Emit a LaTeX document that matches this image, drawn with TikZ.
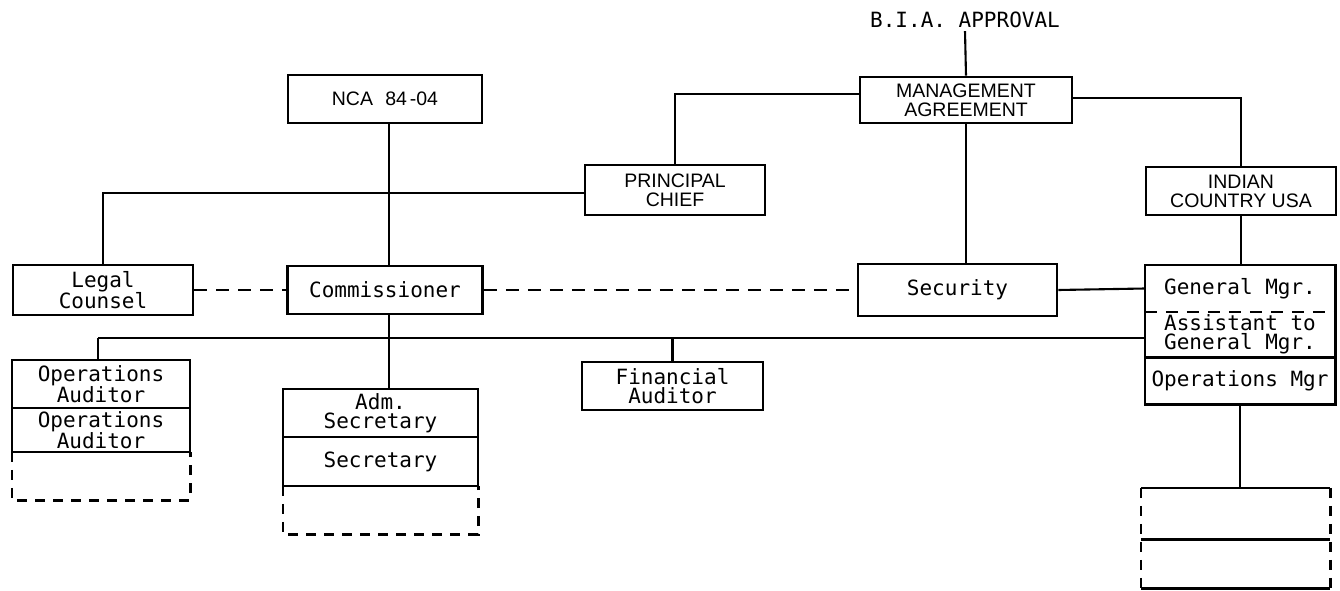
\documentclass[tikz,border=0pt]{standalone}
\usepackage{fontspec}
\setmainfont{Liberation Sans}
\newfontfamily\monofont{DejaVu Sans Mono}
\begin{document}
\begin{tikzpicture}[x=1pt,y=-1pt,
  box/.style={draw, line width=2.6pt, inner sep=0pt, align=center, font=\monofont\fontsize{21}{19}\selectfont},
  capbox/.style={box, font=\fontsize{19.5}{19}\selectfont},
  cell/.style={inner sep=0pt, align=center, font=\monofont\fontsize{21}{19}\selectfont},
  conn/.style={line width=2.1pt},
  dconn/.style={line width=2.1pt, dash pattern=on 13pt off 9pt},
  dbox/.style={line width=2.6pt, dash pattern=on 10pt off 8pt}]
\useasboundingbox (0,0) rectangle (1340,591);

% top row
\node[inner sep=3pt, font=\monofont\fontsize{21}{19}\selectfont] (bia) at (965,20) {B.I.A. APPROVAL};
\node[capbox, minimum width=194pt, minimum height=48pt] (nca) at (385,99) {NCA\hspace{0.35em} 84\hspace{0.15em}-04};
\node[capbox, minimum width=212pt, minimum height=46pt] (mgmt) at (966,100) {MANAGEMENT\\AGREEMENT};
\node[capbox, minimum width=180pt, minimum height=50pt] (principal) at (675,190) {PRINCIPAL\\CHIEF};
\node[capbox, minimum width=190pt, minimum height=48pt] (indian) at (1241,191) {INDIAN\\COUNTRY USA};

% middle row
\node[box, minimum width=180pt, minimum height=50pt] (legal) at (103,290) {Legal\\Counsel};
\node[box, minimum width=195pt, minimum height=48pt] (comm) at (385,290) {Commissioner};
\node[box, minimum width=199pt, minimum height=52pt] (security) at (957.5,290) {Security};

% right stack
\node[cell, minimum width=190pt, minimum height=47pt] (gm) at (1240,288.5) {General Mgr.};
\node[cell, minimum width=190pt, minimum height=45pt] (asst) at (1240,334.5) {Assistant to\\General Mgr.};
\node[cell, minimum width=190pt, minimum height=47pt] (opsmgr) at (1240,380.5) {Operations Mgr};
\draw[line width=2.6pt] (gm.north west) rectangle (opsmgr.south east);
\draw[line width=2.1pt, dash pattern=on 12pt off 9pt] (gm.south west) -- (gm.south east);
\draw[line width=2.6pt] (asst.south west) -- (asst.south east);

% operations auditors
\node[box, minimum width=178pt, minimum height=48pt] (oa1) at (101,384) {Operations\\Auditor};
\node[box, minimum width=178pt, minimum height=44pt] (oa2) at (101,430) {Operations\\Auditor};
\node[cell, minimum width=178pt, minimum height=48pt] (oa3) at (101,476) {};
\draw[dbox] (oa3.north west) -- (oa3.south west) -- (oa3.south east) -- (oa3.north east);

% secretaries
\node[box, minimum width=195pt, minimum height=48pt] (adm) at (380.5,413) {Adm.\\Secretary};
\node[box, minimum width=195pt, minimum height=49pt] (sec) at (380.5,461.5) {Secretary};
\node[cell, minimum width=195pt, minimum height=48pt] (sec2) at (380.5,510) {};
\draw[dbox] (sec2.north west) -- (sec2.south west) -- (sec2.south east) -- (sec2.north east);

% financial auditor
\node[box, minimum width=181pt, minimum height=48pt] (fin) at (672.5,386) {Financial\\Auditor};

% bottom right placeholder
\node[cell, minimum width=189pt, minimum height=51pt] (rb1) at (1235.5,513.5) {};
\node[cell, minimum width=189pt, minimum height=50pt] (rb2) at (1235.5,563.5) {};
\draw[line width=2.6pt] (rb1.north west) -- (rb1.north east);
\draw[line width=2.6pt] (rb1.south west) -- (rb1.south east);
\draw[line width=2.6pt] (rb2.south west) -- (rb2.south east);
\draw[dbox] (rb1.north west) -- (rb2.south west);
\draw[dbox] (rb1.north east) -- (rb2.south east);

% connectors
\coordinate (ncaout) at ([xshift=4pt]nca.south);
\draw[conn] (bia.south) -- (mgmt.north);
\draw[conn] (ncaout) -- (ncaout |- comm.north);
\draw[conn] (ncaout |- comm.south) -- (ncaout |- adm.north);
\draw[conn] ([yshift=6pt]mgmt.west) -| (principal.north);
\draw[conn] ([yshift=2pt]mgmt.east) -| (indian.north);
\draw[conn] (mgmt.south) -- (mgmt.south |- security.north);
\draw[conn] ([yshift=-3pt]principal.west) -| (legal.north);
\draw[dconn] (legal.east) -- (comm.west);
\draw[dconn] (comm.east) -- (security.west);
\draw[conn] (security.east) -- (gm.west);
\coordinate (hl) at (98,338);
\draw[conn] (hl) -- (hl -| asst.west);
\draw[conn] (hl) -- (hl |- oa1.north);
\draw[conn] (fin.north |- hl) -- (fin.north);
\draw[conn] (indian.south) -- (indian.south |- gm.north);
\draw[conn] (opsmgr.south) -- (opsmgr.south |- rb1.north);
\end{tikzpicture}
\end{document}
